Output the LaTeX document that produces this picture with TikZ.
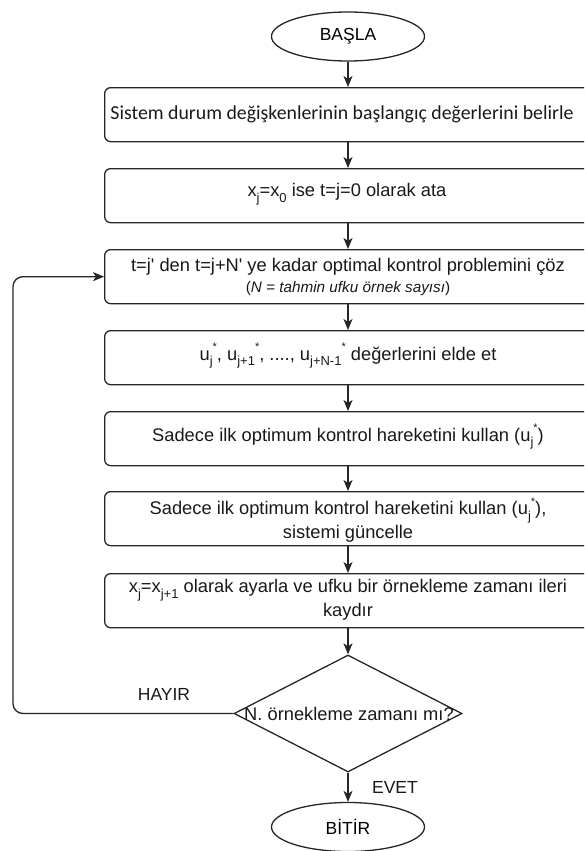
\documentclass[tikz,border=0pt]{standalone}
\usepackage{fontspec}
\setmainfont{Liberation Sans}
\newfontfamily\calibrifont{Carlito}
\usetikzlibrary{shapes.geometric,arrows.meta}
% lowered index and raised star, sized as in the running text
\newcommand\lowidx[1]{\raisebox{-0.32em}{\fontsize{13}{13}\selectfont #1}}
\newcommand\upstar{\raisebox{0.5em}{\fontsize{11}{11}\selectfont *}}
\newcommand\ustar[1]{u\lowidx{#1}\upstar}
\begin{document}
\begin{tikzpicture}[x=1pt,y=-1pt,
  linecol/.style={draw=black!85},
  flow/.style={linecol,line width=1.3pt,-{Stealth[length=11pt,width=9pt,inset=3pt]}},
  stepbox/.style={linecol,line width=1.3pt,rectangle,rounded corners=6pt,
    minimum width=560pt,minimum height=54pt,anchor=north west,inner sep=0pt},
  term/.style={linecol,line width=1.3pt,ellipse,minimum width=153pt,
    minimum height=49pt,inner sep=0pt,font=\fontsize{17.5}{20}\selectfont},
  decide/.style={linecol,line width=1.3pt,diamond,minimum width=228pt,
    minimum height=117pt,inner sep=0pt},
  txt/.style={inner sep=0pt,align=center,text=black!90,
    font=\fontsize{18.3}{23.5}\selectfont},
  lbl/.style={inner sep=0pt,text=black!90,font=\fontsize{17.5}{20}\selectfont}]
\useasboundingbox (0,0) rectangle (584,851);
\clip (0,0) rectangle (584,851);

% guide lines: main spine and loop-back column
\coordinate (sp) at (348,0);
\coordinate (lp) at (13,0);

% terminals
\node[term] (start) at (348,36.5) {BAŞLA};
\node[term] (stop) at (348,827) {BİTİR};

% process boxes (they run off the right edge)
\node[stepbox] (b1) at (104,87) {};
\node[stepbox] (b2) at (104,168) {};
\node[stepbox] (b3) at (104,249) {};
\node[stepbox] (b4) at (104,330) {};
\node[stepbox] (b5) at (104,411) {};
\node[stepbox] (b6) at (104,491) {};
\node[stepbox] (b7) at (104,573) {};

% decision
\node[decide] (dec) at (348,713.5) {};

% box texts
\node[txt,font=\calibrifont\fontsize{19.8}{23}\selectfont] (t1) at (342,114)
  {Sistem durum değişkenlerinin başlangıç değerlerini belirle};
\node[txt] (t2) at (347,194) {x\lowidx{j}=x\lowidx{0} ise t=j=0 olarak ata};
\node[txt] (t3) at (348,277) {t=j\textquotesingle{} den t=j+N\textquotesingle{} ye kadar optimal kontrol problemini çöz\\[-3pt]
  {\fontsize{15.3}{17}\selectfont(\textit{N = tahmin ufku örnek sayısı})}};
\node[txt] (t4) at (348,356) {\ustar{j}, \ustar{j+1}, ...., \ustar{j+N-1} değerlerini elde et};
\node[txt] (t5) at (348,437) {Sadece ilk optimum kontrol hareketini kullan (\ustar{j})};
\node[txt] (t6) at (348,520) {Sadece ilk optimum kontrol hareketini kullan (\ustar{j}),\\
  sistemi güncelle};
\node[txt] (t7) at (348,600) {x\lowidx{j}=x\lowidx{j+1} olarak ayarla ve ufku bir örnekleme zamanı ileri\\
  kaydır};
\node[txt] (t8) at (349,714) {N. örnekleme zamanı mı?};

% branch labels
\node[lbl] (no) at (164,694) {HAYIR};
\node[lbl] (yes) at (395,787) {EVET};

% connectors
\draw[flow] (start.south) -- (b1.north -| sp);
\draw[flow] (b1.south -| sp) -- (b2.north -| sp);
\draw[flow] (b2.south -| sp) -- (b3.north -| sp);
\draw[flow] (b3.south -| sp) -- (b4.north -| sp);
\draw[flow] (b4.south -| sp) -- (b5.north -| sp);
\draw[flow] (b5.south -| sp) -- (b6.north -| sp);
\draw[flow] (b6.south -| sp) -- (b7.north -| sp);
\draw[flow] (b7.south -| sp) -- (dec.north);
\draw[flow] (dec.south) -- (stop.north);
\draw[flow,rounded corners=10pt] (dec.west) -| (lp |- b3.west) -- (b3.west);
\end{tikzpicture}
\end{document}
